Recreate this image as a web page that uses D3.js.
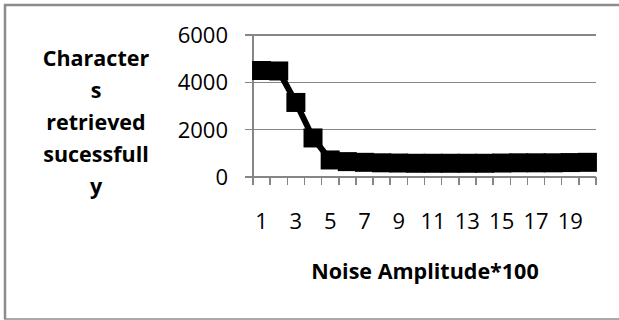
<!DOCTYPE html>
<html>
<meta charset="utf-8">
<style>
body { margin: 0; background: #fff; }
svg { font-family: "Open Sans", sans-serif; }
.grid line, .axis line, .axis path { stroke: #868686; stroke-width: 1.5px; shape-rendering: crispEdges; }
.ticklabel { font-size: 22px; fill: #000; }
.title { font-size: 21.5px; font-weight: bold; fill: #000; }
.frame { stroke: #8c8c8c; }
</style>
<body>
<svg width="619" height="320"></svg>
<script src="https://d3js.org/d3.v7.min.js"></script>
<script>

// noise amplitude * 100 (categories) and characters retrieved
var categories = d3.range(1, 21);
var retrieved = [4500, 4480, 3150, 1650, 720, 650, 620, 600, 590, 580,
                 580, 580, 580, 580, 590, 600, 600, 600, 610, 620];
var yTicks = [0, 2000, 4000, 6000];
var xLabels = [1, 3, 5, 7, 9, 11, 13, 15, 17, 19];
var yTitle = ["Character", "s", "retrieved", "sucessfull", "y"];
var xTitle = "Noise Amplitude*100";

var svg = d3.select("svg");

// chart border (right edge falls outside the picture)
svg.append("line").attr("class", "frame")
    .attr("x1", 5).attr("x2", 5).attr("y1", 4).attr("y2", 319)
    .attr("stroke-width", 2.5);
svg.append("line").attr("class", "frame")
    .attr("x1", 4).attr("x2", 619).attr("y1", 5).attr("y2", 5)
    .attr("stroke-width", 2.5);
svg.append("line").attr("class", "frame")
    .attr("x1", 4).attr("x2", 619).attr("y1", 319).attr("y2", 319)
    .attr("stroke", "#c8c8c8")
    .attr("stroke-width", 1.5);

var x = d3.scaleBand().domain(categories).range([253, 596]);
var y = d3.scaleLinear().domain([0, 6000]).range([177, 35]);

// gridlines + y ticks
svg.append("g").attr("class", "grid")
  .selectAll("line")
  .data(yTicks)
  .enter().append("line")
    .attr("x1", 245).attr("x2", 596)
    .attr("y1", function(d) { return y(d); })
    .attr("y2", function(d) { return y(d); });

svg.append("g")
  .selectAll("text")
  .data(yTicks)
  .enter().append("text")
    .attr("class", "ticklabel")
    .attr("x", 228)
    .attr("y", function(d) { return y(d); })
    .attr("dy", "0.36em")
    .attr("text-anchor", "end")
    .text(function(d) { return d; });

// axes
var ax = svg.append("g").attr("class", "axis");
ax.append("line")
    .attr("x1", x.range()[0]).attr("x2", x.range()[0])
    .attr("y1", y(6000)).attr("y2", y(0));
ax.selectAll(".xt")
  .data(categories.concat([21]))
  .enter().append("line")
    .attr("class", "xt")
    .attr("x1", function(d) { return d > 20 ? x.range()[1] : x(d); })
    .attr("x2", function(d) { return d > 20 ? x.range()[1] : x(d); })
    .attr("y1", y(0)).attr("y2", y(0) + 8);

svg.append("g")
  .selectAll("text")
  .data(xLabels)
  .enter().append("text")
    .attr("class", "ticklabel")
    .attr("x", function(d) { return x(d) + x.bandwidth() / 2; })
    .attr("y", 229)
    .attr("text-anchor", "middle")
    .text(function(d) { return d; });

// series
var line = d3.line()
    .x(function(d, i) { return x(categories[i]) + x.bandwidth() / 2; })
    .y(function(d) { return y(d); });

svg.append("path")
    .datum(retrieved)
    .attr("d", line)
    .attr("fill", "none")
    .attr("stroke", "#000")
    .attr("stroke-width", 6);

var ms = 19;
svg.append("g")
  .selectAll("rect")
  .data(retrieved)
  .enter().append("rect")
    .attr("x", function(d, i) { return x(categories[i]) + x.bandwidth() / 2 - ms / 2; })
    .attr("y", function(d) { return y(d) - ms / 2; })
    .attr("width", ms).attr("height", ms)
    .attr("fill", "#000");

// titles
svg.append("text")
    .attr("class", "title")
    .attr("x", 425).attr("y", 279)
    .attr("text-anchor", "middle")
    .text(xTitle);

svg.append("g")
  .selectAll("text")
  .data(yTitle)
  .enter().append("text")
    .attr("class", "title")
    .attr("x", 96)
    .attr("y", function(d, i) { return 66 + i * 32; })
    .attr("text-anchor", "middle")
    .text(function(d) { return d; });

</script>
</body>
</html>
